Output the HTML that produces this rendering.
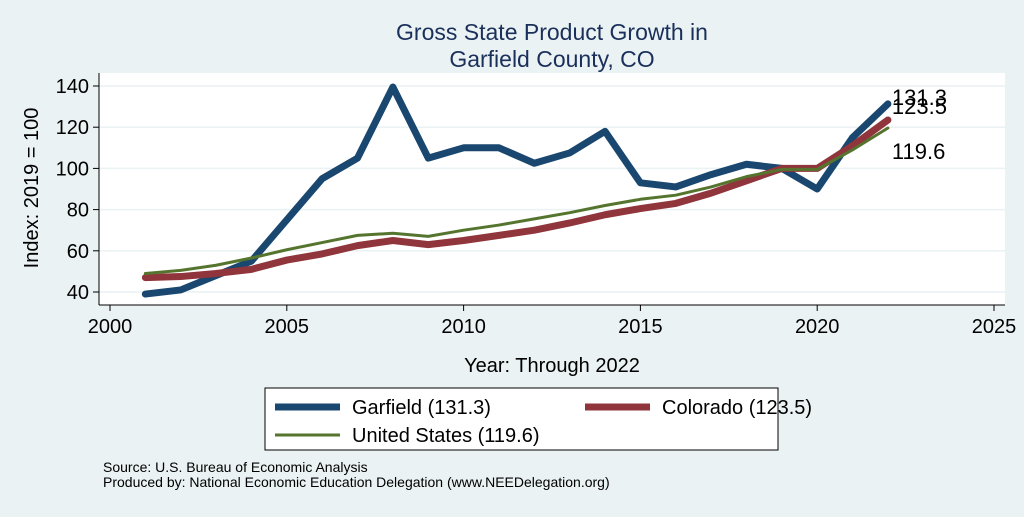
<!DOCTYPE html>
<html><head><meta charset="utf-8"><style>
body{margin:0;background:#eaf2f3;font-family:"Liberation Sans",sans-serif}
svg text{font-family:"Liberation Sans",sans-serif}
</style></head><body>
<svg id="c" width="1024" height="512" xmlns="http://www.w3.org/2000/svg">
<rect width="1024" height="512" fill="#eaf2f3"/>
<text x="552" y="40" font-size="23" fill="#1a2f5a" text-anchor="middle">Gross State Product Growth in</text>
<text x="552" y="67" font-size="23" fill="#1a2f5a" text-anchor="middle">Garfield County, CO</text>
<rect x="99" y="73" width="906" height="232" fill="#fff"/>
<g id="grid"></g><g id="axes"></g><g id="series"></g><g id="labels"></g>
<text x="38" y="188" font-size="20" fill="#000" text-anchor="middle" transform="rotate(-90 38 188)">Index: 2019 = 100</text>
<text x="552" y="372" font-size="20" fill="#000" text-anchor="middle">Year: Through 2022</text>
<g>
<rect x="265" y="388" width="513" height="62" fill="#fff" stroke="#000" stroke-width="1"/>
<line x1="275" y1="407" x2="340" y2="407" stroke="#1a476f" stroke-width="7"/>
<text x="352" y="414" font-size="20">Garfield  (131.3)</text>
<line x1="585" y1="407" x2="650" y2="407" stroke="#90353b" stroke-width="7"/>
<text x="662" y="414" font-size="20">Colorado (123.5)</text>
<line x1="275" y1="435" x2="340" y2="435" stroke="#55752f" stroke-width="3"/>
<text x="352" y="442" font-size="20">United States (119.6)</text>
</g>
<text x="103" y="472" font-size="14">Source: U.S. Bureau of Economic Analysis</text>
<text x="103" y="487" font-size="14">Produced by: National Economic Education Delegation (www.NEEDelegation.org)</text>
</svg>
<script>
const years=[2001,2002,2003,2004,2005,2006,2007,2008,2009,2010,2011,2012,2013,2014,2015,2016,2017,2018,2019,2020,2021,2022];
const garfield=[39,41,48,55,75,95,105,139.5,105,110,110,102.5,107.5,118,93,91,97,102,100,90,115,131.3];
const colorado=[47,47.5,49,51,55.5,58.5,62.5,65,63,65,67.5,70,73.5,77.5,80.5,83,88,94,100,100,111,123.5];
const us=[49,50.5,53,56.5,60.5,64,67.5,68.5,67,70,72.5,75.5,78.5,82,85,87,91,96,99.5,99.5,109,119.6];
const xTicks=[2000,2005,2010,2015,2020,2025];
const yTicks=[40,60,80,100,120,140];
const NS="http://www.w3.org/2000/svg";
const X=v=>110+(v-2000)*(994-110)/25;
const Y=v=>292-(v-40)*(292-86)/100;
function mk(t,a,p){const e=document.createElementNS(NS,t);for(const k in a)e.setAttribute(k,a[k]);document.getElementById(p).appendChild(e);return e;}
yTicks.forEach(t=>{
 const g=mk('line',{x1:99,x2:1005,y1:Y(t),y2:Y(t),stroke:'#eaf2f3','stroke-width':1.5},'grid');
 
 
 const k=mk('line',{x1:93,x2:99,y1:Y(t),y2:Y(t),stroke:'#000'},'axes');
 
 
 const l=mk('text',{x:89,y:Y(t)+7,'font-size':20,'text-anchor':'end'},'axes');l.textContent=t;
 
 
});
xTicks.forEach(t=>{
 const k=mk('line',{x1:X(t),x2:X(t),y1:305,y2:311,stroke:'#000'},'axes');
 
 
 const l=mk('text',{x:X(t),y:333,'font-size':20,'text-anchor':'middle'},'axes');l.textContent=t;
 
 
});
const ya=mk('line',{x1:99,x2:99,y1:73,y2:305,stroke:'#000'},'axes');


const xa=mk('line',{x1:99,x2:1005,y1:305,y2:305,stroke:'#000'},'axes');


function line(vals,col,w,name){
 const p=mk('polyline',{points:vals.map((v,i)=>X(years[i])+','+Y(v)).join(' '),fill:'none',stroke:col,'stroke-width':w,'stroke-linejoin':'round','stroke-linecap':'round'},'series');
 
 
}
line(garfield,'#1a476f',7,'series-garfield');
line(colorado,'#90353b',7,'series-colorado');
line(us,'#55752f',3,'series-us');
const n=years.length-1;
const labs=[[garfield[n],Y(garfield[n])+1,'end-label-garfield'],[colorado[n],Y(colorado[n])-6,'end-label-colorado'],[us[n],Y(us[n])+31,'end-label-us']];
labs.forEach(([v,y,nm])=>{
 const t=mk('text',{x:X(years[n])+4,y:y,'font-size':22},'labels');t.textContent=v.toFixed(1);
 
 
});
</script>
</body></html>
